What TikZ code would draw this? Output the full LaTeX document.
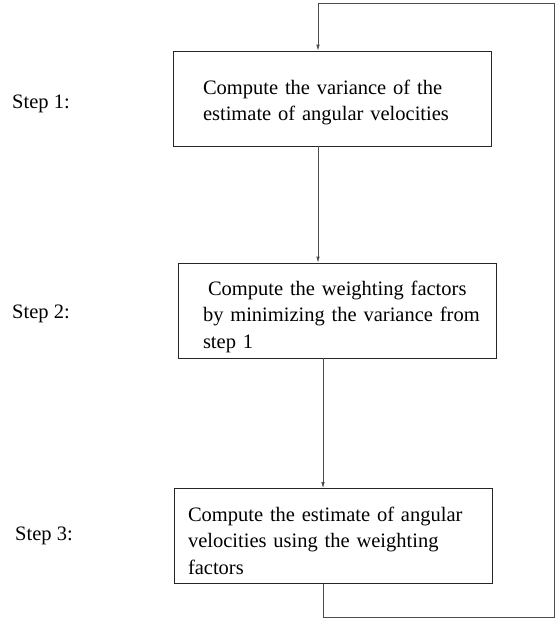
\documentclass[tikz,border=0pt]{standalone}
\usepackage{fontspec}
\setmainfont{Liberation Serif}
\usetikzlibrary{arrows.meta}

\begin{document}
\begin{tikzpicture}[x=1pt, y=-1pt,
  every node/.style={font=\fontsize{20.5}{26.5}\selectfont},
  stepbox/.style={draw=black!85, line width=0.7pt, rectangle, align=left,
    minimum width=318pt, minimum height=95pt, inner sep=0pt},
  textdrop/.style={execute at begin node={\rule{0pt}{#1}}},
  steplabel/.style={anchor=base west, inner sep=0pt},
  flow/.style={draw=black!70, line width=0.7pt, -{Latex[length=6pt,width=3.5pt]}},
  loop/.style={draw=black!70, line width=0.7pt}]
  \useasboundingbox (0,0) rectangle (555,620);
  \node[stepbox, text width=258pt, textdrop=22.5pt] (box1) at (332,98.5) {Compute the variance of the\\estimate of angular velocities};
  \node[stepbox, text width=268pt, textdrop=26.5pt] (box2) at (337,310.5) {\hspace*{5pt}Compute the weighting factors\\\mbox{by minimizing the variance from}\\step 1};
  \node[stepbox, text width=290pt, textdrop=23.5pt] (box3) at (333,536) {Compute the estimate of angular\\velocities using the weighting\\factors};
  \node[steplabel] (step1) at (12,109) {Step 1:};
  \node[steplabel] (step2) at (12,318) {Step 2:};
  \node[steplabel] (step3) at (15,540) {Step 3:};
  \coordinate (a1) at (318,3);
  \coordinate (a2) at (323,617);
  \coordinate (c1) at (554,3);
  \coordinate (c2) at (554,617);
  \draw[flow] (box1.south -| a1) -- (box2.north -| a1);
  \draw[flow] (box2.south -| a2) -- (box3.north -| a2);
  \draw[loop] (box3.south -| a2) -- (a2) -- (c2) -- (c1) -- (a1);
  \draw[flow] (a1) -- (box1.north -| a1);
\end{tikzpicture}
\end{document}
